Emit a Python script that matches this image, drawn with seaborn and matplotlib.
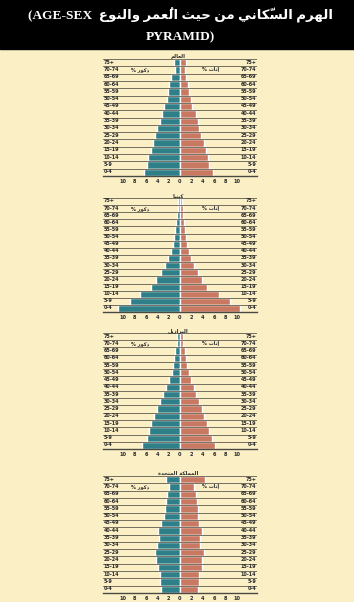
import matplotlib
matplotlib.use("Agg")
import matplotlib.pyplot as plt
import seaborn as sns
import pandas as pd

ages = ["75+", "70-74", "65-69", "60-64", "55-59", "50-54", "45-49", "40-44",
        "35-39", "30-34", "25-29", "20-24", "15-19", "10-14", "5-9", "0-4"]

world_male = [1.1, 0.9, 1.6, 1.9, 2.1, 2.3, 2.8, 3.1, 3.6, 4.1, 4.4, 4.8, 5.2, 5.6, 5.8, 6.4]
world_female = [1.1, 0.9, 1.1, 1.4, 1.6, 1.9, 2.2, 2.8, 3.1, 3.4, 3.7, 4.2, 4.6, 4.9, 5.2, 5.8]
kenya_male = [0.4, 0.4, 0.5, 0.7, 0.9, 1.0, 1.3, 1.6, 2.2, 2.7, 3.4, 4.2, 5.2, 7.1, 8.8, 10.9]
kenya_female = [0.35, 0.45, 0.6, 0.75, 0.9, 1.05, 1.2, 1.6, 1.9, 2.5, 3.1, 3.9, 4.8, 6.9, 8.9, 10.6]
brazil_male = [0.6, 0.6, 0.9, 1.0, 1.3, 1.5, 2.0, 2.4, 3.0, 3.5, 4.1, 4.6, 5.1, 5.4, 5.9, 6.7]
brazil_female = [0.6, 0.6, 0.9, 1.0, 1.3, 1.6, 2.0, 2.5, 2.9, 3.4, 3.8, 4.2, 4.7, 5.1, 5.6, 6.1]
uk_male = [2.5, 1.9, 2.3, 2.5, 2.7, 2.8, 3.3, 3.9, 3.7, 4.0, 4.5, 4.3, 3.9, 3.5, 3.5, 3.4]
uk_female = [4.5, 2.4, 2.8, 3.0, 3.1, 3.1, 3.3, 3.8, 3.6, 3.6, 4.2, 3.9, 3.8, 3.3, 3.3, 3.2]

panel_titles = ["العالم", "كينيا", "البرازيل", "المملكة المتحدة"]
male_label = "ذكور %"
female_label = "إناث %"
title_ar = "الهرم السكّاني من حيث العُمر والنوع"
ticks = [-10, -8, -6, -4, -2, 0, 2, 4, 6, 8, 10]

# matplotlib has no arabic shaping, so pick the presentation forms by hand
FORMS = {
    "ا": ("\uFE8D", "\uFE8E", None, None), "إ": ("\uFE87", "\uFE88", None, None),
    "ب": ("\uFE8F", "\uFE90", "\uFE91", "\uFE92"), "ة": ("\uFE93", "\uFE94", None, None),
    "ت": ("\uFE95", "\uFE96", "\uFE97", "\uFE98"), "ث": ("\uFE99", "\uFE9A", "\uFE9B", "\uFE9C"),
    "ح": ("\uFEA1", "\uFEA2", "\uFEA3", "\uFEA4"), "د": ("\uFEA9", "\uFEAA", None, None),
    "ذ": ("\uFEAB", "\uFEAC", None, None), "ر": ("\uFEAD", "\uFEAE", None, None),
    "ز": ("\uFEAF", "\uFEB0", None, None), "س": ("\uFEB1", "\uFEB2", "\uFEB3", "\uFEB4"),
    "ع": ("\uFEC9", "\uFECA", "\uFECB", "\uFECC"), "ك": ("\uFED9", "\uFEDA", "\uFEDB", "\uFEDC"),
    "ل": ("\uFEDD", "\uFEDE", "\uFEDF", "\uFEE0"), "م": ("\uFEE1", "\uFEE2", "\uFEE3", "\uFEE4"),
    "ن": ("\uFEE5", "\uFEE6", "\uFEE7", "\uFEE8"), "ه": ("\uFEE9", "\uFEEA", "\uFEEB", "\uFEEC"),
    "و": ("\uFEED", "\uFEEE", None, None), "ي": ("\uFEF1", "\uFEF2", "\uFEF3", "\uFEF4"),
}
MARKS = {"\u064F", "\u0651"}


def shape_ar(text):
    n = len(text)

    def neighbour(i, step):
        j = i + step
        while 0 <= j < n and text[j] in MARKS:
            j += step
        return text[j] if 0 <= j < n else None

    out = []
    for i, ch in enumerate(text):
        if ch not in FORMS:
            out.append(ch)
            continue
        iso, fin, ini, med = FORMS[ch]
        p, q = neighbour(i, -1), neighbour(i, 1)
        jp = p in FORMS and FORMS[p][2] is not None
        jn = ini is not None and q in FORMS
        out.append(med if jp and jn else fin if jp else ini if jn else iso)
    clusters = []
    for ch in out:
        if ch in MARKS and clusters:
            clusters[-1] += ch
        else:
            clusters.append(ch)
    return "".join(reversed(clusters))


sns.set_theme(style="white")
plt.rcParams["font.family"] = ["DejaVu Sans"]

bg = "#fbefc6"
teal = "#2f7f89"
salmon = "#c97961"
line_c = "#5a574c"
txt_c = "#2b2b2b"

W, H = 354, 602
fig = plt.figure(figsize=(W / 100, H / 100), dpi=100, facecolor=bg)
fig.add_artist(plt.Rectangle((0, 1 - 49 / H), 1, 49 / H, transform=fig.transFigure,
                             color="black", zorder=0))
tfont = dict(family=["Liberation Serif", "DejaVu Sans"], weight="bold", color="white",
             fontsize=9.6, ha="center", va="center")
fig.text(180 / W, 1 - 15 / H, "(AGE-SEX  " + shape_ar(title_ar), **tfont)
fig.text(180 / W, 1 - 37 / H, "PYRAMID)", **tfont)

data = [(world_male, world_female), (kenya_male, kenya_female),
        (brazil_male, brazil_female), (uk_male, uk_female)]
boxes = [(59, 176), (198, 312), (333, 449), (476, 593)]

for (males, females), (top, bot), name in zip(data, boxes, panel_titles):
    ax = fig.add_axes([103 / W, 1 - bot / H, 154 / W, (bot - top) / H])
    ax.set_facecolor(bg)
    df = pd.DataFrame({
        "age": ages * 2,
        "value": [-v for v in males] + list(females),
        "sex": ["m"] * len(ages) + ["f"] * len(ages),
    })
    sns.barplot(data=df, x="value", y="age", hue="sex", order=ages, hue_order=["m", "f"],
                palette={"m": teal, "f": salmon}, orient="h", dodge=False, width=1.0,
                saturation=1, legend=False, ax=ax, zorder=2)
    for i in range(len(ages)):
        ax.axhline(i - 0.5, color=line_c, lw=0.7, alpha=0.85, zorder=3)
    ax.set_xlim(-13.6, 13.6)
    ax.set_ylim(len(ages) - 0.5, -0.5)
    ax.set_xticks(ticks)
    ax.set_xticklabels([str(abs(t)) for t in ticks], fontsize=3.6, color=txt_c,
                       fontweight="bold")
    ax.tick_params(axis="x", length=0, pad=2)
    ax.set_yticks([])
    ax.set_xlabel("")
    ax.set_ylabel("")
    for s in ["top", "left", "right"]:
        ax.spines[s].set_visible(False)
    ax.spines["bottom"].set_color("#4a4a44")
    ax.spines["bottom"].set_linewidth(1.0)
    tr = ax.get_yaxis_transform()
    for i, a in enumerate(ages):
        ax.text(0.005, i - 0.08, a, transform=tr, ha="left", va="center",
                fontsize=3.5, color=txt_c, fontweight="bold", zorder=4)
        ax.text(0.995, i - 0.08, a, transform=tr, ha="right", va="center",
                fontsize=3.5, color=txt_c, fontweight="bold", zorder=4)
    ax.text(0.24, 0.95, shape_ar(male_label), transform=tr, ha="center", va="center",
            fontsize=3.6, fontweight="bold", color=txt_c, zorder=4)
    ax.text(0.70, 0.95, shape_ar(female_label), transform=tr, ha="center", va="center",
            fontsize=3.6, fontweight="bold", color=txt_c, zorder=4)
    ax.text(0.49, 1.0, shape_ar(name), transform=ax.transAxes, ha="center", va="bottom",
            fontsize=3.8, fontweight="bold", color=txt_c, zorder=4)

fig.savefig("out.png", dpi=100, facecolor=bg)
